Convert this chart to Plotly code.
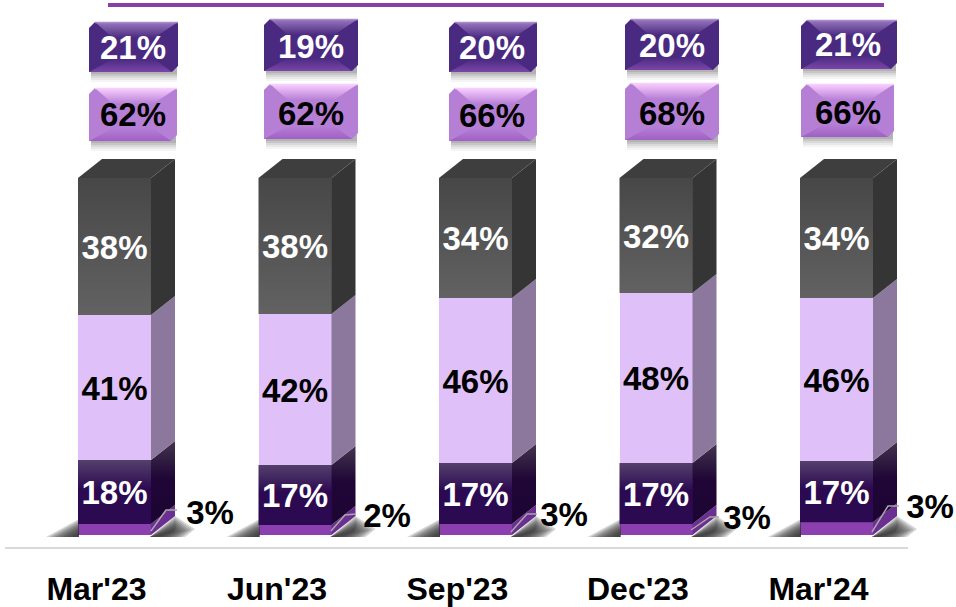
import plotly.graph_objects as go

categories = ["Mar'23", "Jun'23", "Sep'23", "Dec'23", "Mar'24"]
seg_bottom = [3.1, 2.8, 3.1, 3.1, 3.6]
seg_dark = [17.9, 16.8, 17.1, 17.1, 17.1]
seg_light = [40.6, 42.3, 46.2, 47.6, 45.7]
seg_gray = [38.4, 38.1, 33.6, 32.2, 33.6]
lab_bottom = ["3%", "2%", "3%", "3%", "3%"]
lab_dark = ["18%", "17%", "17%", "17%", "17%"]
lab_light = ["41%", "42%", "46%", "48%", "46%"]
lab_gray = ["38%", "38%", "34%", "32%", "34%"]
badge_top = ["21%", "19%", "20%", "20%", "21%"]
badge_mid = ["62%", "62%", "66%", "68%", "66%"]

# layout constants (pixels)
W, H = 956, 607
BOTTOM = 40
STEP = 180.5
X0 = 114.5
Y0 = 535
UNIT = 3.57
BAR_W = 73
DX, DY = 24, 19
FONT = "Liberation Sans"
FS = 33
TEXT_NUDGE = 4

def dx(p):
    return (p - X0) / STEP

def dy(p):
    return (Y0 - p) / UNIT

def poly(pts, color=None, grad=None, opacity=1.0, horizontal=False):
    xs = [dx(p[0]) for p in pts] + [dx(pts[0][0])]
    ys = [dy(p[1]) for p in pts] + [dy(pts[0][1])]
    kw = dict(x=xs, y=ys, mode="lines", fill="toself", line=dict(width=0),
              hoverinfo="skip", showlegend=False, opacity=opacity)
    if grad:
        vals = xs if horizontal else ys
        lo, hi = min(vals), max(vals)
        kw["fillgradient"] = dict(type="horizontal" if horizontal else "vertical",
                                  colorscale=grad, start=lo, stop=hi)
        kw["fillcolor"] = "rgba(0,0,0,0)"
    else:
        kw["fillcolor"] = color
    return go.Scatter(**kw)

def txt(px, py, s, color="black", size=FS):
    return go.Scatter(x=[dx(p) for p in px], y=[dy(p + TEXT_NUDGE) for p in py], mode="text", text=s,
                      textposition="middle center", hoverinfo="skip", showlegend=False,
                      textfont=dict(family=FONT, size=size, color=color, weight=700))

fig = go.Figure()
n = len(categories)
half = BAR_W / 2 / STEP
ddx = DX / STEP
ddy = DY / UNIT

# soft ground shadows, built from nested translucent layers
for i in range(n):
    L = X0 + i * STEP - BAR_W / 2
    R = L + BAR_W
    for k in range(10):
        fig.add_trace(poly([(L - 32 + 3 * k, 537), (L + 1, 519 + 1.6 * k), (L + 1, 537)],
                           color="#333333", opacity=0.2))
        fig.add_trace(poly([(R - 1, 537), (R + 24, 516 + 1.6 * k), (R + 44 - 3 * k, 529 + 0.5 * k), (R + 34 - 3 * k, 537)],
                           color="#333333", opacity=0.2))

# stacked front faces through the bar scale
series = [
    ("bottom", seg_bottom, "#8c3fae"),
    ("dark", seg_dark, "#2c0a52"),
    ("light", seg_light, "#dfc0f8"),
    ("gray", seg_gray, "#545454"),
]
for name, vals, col in series:
    fig.add_trace(go.Bar(x=list(range(n)), y=vals, name=name, marker=dict(color=col, line=dict(width=0)),
                         width=BAR_W / STEP, hoverinfo="skip", showlegend=False))

side_styles = {
    "bottom": dict(fillcolor="#6a2f90"),
    "dark": dict(grad=[[0, "#1c0433"], [0.55, "#1f0636"], [1, "#43344d"]]),
    "light": dict(fillcolor="#8c789c"),
    "gray": dict(fillcolor="#353535"),
}
front_grad = {
    "dark": [[0, "#2c0a52"], [0.55, "#2c0a52"], [1, "#55406c"]],
    "gray": [[0, "#626262"], [1, "#474747"]],
}

for i in range(n):
    base = 0.0
    r = i + half
    for name, vals, _ in series:
        top = base + vals[i]
        xs = [r, r + ddx, r + ddx, r, r]
        ys = [base, base + ddy, top + ddy, top, base]
        st = side_styles[name]
        kw = dict(x=xs, y=ys, mode="lines", fill="toself", line=dict(width=0),
                  hoverinfo="skip", showlegend=False)
        if "grad" in st:
            kw["fillgradient"] = dict(type="vertical", colorscale=st["grad"], start=base, stop=top + ddy)
            kw["fillcolor"] = "rgba(0,0,0,0)"
        else:
            kw["fillcolor"] = st["fillcolor"]
        fig.add_trace(go.Scatter(**kw))
        if name in front_grad:
            fig.add_trace(go.Scatter(
                x=[i - half, i + half, i + half, i - half, i - half], y=[base, base, top, top, base],
                mode="lines", fill="toself", line=dict(width=0), hoverinfo="skip", showlegend=False,
                fillcolor="rgba(0,0,0,0)",
                fillgradient=dict(type="vertical", colorscale=front_grad[name], start=base, stop=top)))
        base = top
    fig.add_trace(go.Scatter(
        x=[i - half, i + half, r + ddx, i - half + ddx, i - half], y=[base, base, base + ddy, base + ddy, base],
        mode="lines", fill="toself", line=dict(width=0), fillcolor="#3e3e3e",
        hoverinfo="skip", showlegend=False))

# leader lines for the small segment labels
leaders = [
    [(151, 531), (166, 510), (177, 510)],
    [(331, 531), (345, 515), (356, 514)],
    [(511, 532), (527, 514), (537, 514)],
    [(691, 530), (710, 517), (719, 517)],
    [(872, 532), (888, 506), (899, 506)],
]
for pts in leaders:
    fig.add_trace(go.Scatter(x=[dx(p[0]) for p in pts], y=[dy(p[1]) for p in pts], mode="lines",
                             line=dict(color="#a8a8a8", width=1.5), hoverinfo="skip", showlegend=False))

# bevelled badges
top_boxes = [(89, 22, 178, 72), (264, 19, 358, 71), (449, 22, 537, 72), (625, 19, 719, 70), (801, 20, 897, 69)]
mid_boxes = [(89, 88, 177, 141), (264, 84, 358, 139), (449, 88, 537, 141), (625, 83, 719, 140), (801, 84, 894, 137)]

def badge(box, face, top_c, bottom_c, edge):
    x0, y0, x1, y1 = box
    for k, op in ((10, 0.05), (8, 0.07), (6, 0.09), (4, 0.12), (2, 0.15)):
        fig.add_trace(poly([(x0 + 2, y0 + 6), (x1 - 1, y0 + 6), (x1 - 1, y1 + k), (x0 + 2, y1 + k)],
                           color="#444444", opacity=op))
    bx, by = 24, 16
    r = 6
    fig.add_trace(poly([(x0, y0 + r), (x0 + r, y0), (x1, y0), (x1, y1 - r), (x1 - r, y1), (x0, y1)], color=face))
    ix0, iy0, ix1, iy1 = x0 + bx, y0 + by, x1 - bx, y1 - 13
    fig.add_trace(poly([(x0 + r, y0), (x1, y0), (ix1, iy0), (ix0, iy0)],
                       grad=[[0, face], [1, top_c]]))
    fig.add_trace(poly([(x0, y1), (x1 - r, y1), (ix1, iy1), (ix0, iy1)],
                       grad=[[0, bottom_c], [1, face]]))
    fig.add_trace(go.Scatter(x=[dx(x0 + r), dx(x1)], y=[dy(y0 + 0.5)] * 2, mode="lines",
                             line=dict(color=edge, width=1.5), hoverinfo="skip", showlegend=False))

for b in top_boxes:
    badge(b, "#4a2a80", "#9a78c0", "#7a45a8", "#a98ccb")
for b in mid_boxes:
    badge(b, "#b67fd6", "#fbcfff", "#a060c4", "#f3d0ff")

# text labels
fig.add_trace(txt([133, 311, 492, 672, 848], [47, 46, 47, 45, 44], badge_top, "white"))
fig.add_trace(txt([133, 311, 492, 672, 848], [114, 113, 115, 113, 112], badge_mid, "black"))

def mids(a, below):
    return [sum(col[i] for col in below) + a[i] / 2 - TEXT_NUDGE / UNIT for i in range(n)]

for vals, below, labs, color in (
    (seg_gray, [seg_bottom, seg_dark, seg_light], lab_gray, "white"),
    (seg_light, [seg_bottom, seg_dark], lab_light, "black"),
    (seg_dark, [seg_bottom], lab_dark, "white"),
):
    fig.add_trace(go.Scatter(x=list(range(n)), y=mids(vals, below), mode="text", text=labs,
                             textposition="middle center", hoverinfo="skip", showlegend=False,
                             textfont=dict(family=FONT, size=FS, color=color, weight=700)))
fig.add_trace(txt([210, 387, 564, 747, 930], [512, 515, 514, 517, 506], lab_bottom, "black"))

fig.update_layout(
    width=W, height=H, barmode="stack", bargap=0,
    margin=dict(l=0, r=0, t=0, b=BOTTOM, pad=0),
    paper_bgcolor="white", plot_bgcolor="white",
    xaxis=dict(range=[dx(0), dx(W)], tickmode="array",
               tickvals=[i - 0.1 for i in range(n)], ticktext=categories,
               tickfont=dict(family=FONT, size=32, color="black", weight=700),
               showgrid=False, zeroline=False, showline=False, ticks="", fixedrange=True, automargin=False),
    yaxis=dict(range=[dy(H - BOTTOM), dy(0)], visible=False, showgrid=False, zeroline=False, fixedrange=True),
    shapes=[
        dict(type="line", xref="paper", yref="paper", x0=108 / W, x1=884 / W,
             y0=1 - 5 / (H - BOTTOM), y1=1 - 5 / (H - BOTTOM), line=dict(color="#8a3fa8", width=4)),
        dict(type="line", xref="paper", yref="paper", x0=5 / W, x1=908 / W,
             y0=1 - 548 / (H - BOTTOM), y1=1 - 548 / (H - BOTTOM), line=dict(color="#d9d9d9", width=2)),
    ],
)
fig.write_html("out.html", config={"displayModeBar": False},
               post_script="document.body.style.margin='0';document.body.style.overflow='hidden';")
